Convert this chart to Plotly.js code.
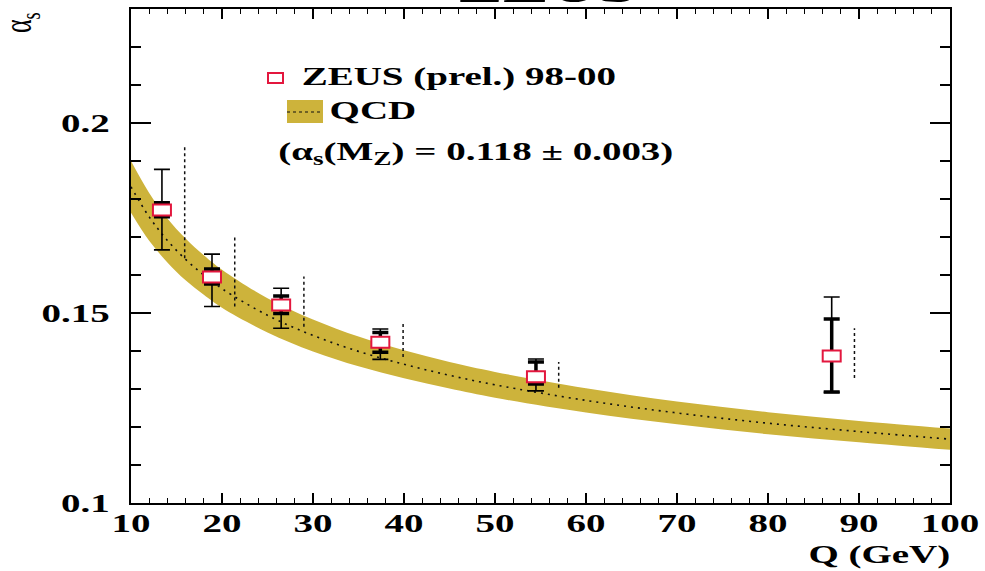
<!DOCTYPE html>
<html><head><meta charset="utf-8">
<script src="https://cdn.plot.ly/plotly-3.0.1.min.js"></script>
<style>html,body{margin:0;padding:0;background:#fff}#chart{width:985px;height:571px}</style>
</head><body><div id="chart"></div>
<script>
// ---- QCD prediction band ----
const qcdQ       = [10, 12, 14, 16, 18, 20, 25, 30, 35, 40, 45, 50, 60, 70, 80, 90, 100];
const qcdCentral = [0.1832,0.1753,0.1691,0.1641,0.1600,0.1564,0.1494,0.1441,0.1399,0.1365,0.1336,0.1311,0.1270,0.1237,0.1210,0.1188,0.1168];
const qcdUpper   = [0.1900,0.1816,0.1749,0.1696,0.1652,0.1614,0.1539,0.1483,0.1438,0.1402,0.1371,0.1345,0.1302,0.1267,0.1239,0.1216,0.1196];
const qcdLower   = [0.1764,0.1690,0.1633,0.1586,0.1548,0.1514,0.1449,0.1399,0.1360,0.1328,0.1301,0.1277,0.1238,0.1207,0.1181,0.1160,0.1140];

// ---- ZEUS (prel.) 98-00 data ----
const zeusQ     = [13.4, 18.9, 26.5, 37.4, 54.5, 87.0];
const zeusAlpha = [0.1771,0.1595,0.1521,0.1423,0.1332,0.1387];
const statHi    = [0.1790,0.1616,0.1545,0.1449,0.1371,0.1484];
const statLo    = [0.1753,0.1576,0.1499,0.1397,0.1313,0.1292];
const totHi     = [0.1878,0.1655,0.1565,0.1458,0.1379,0.1542];
const totLo     = [0.1666,0.1517,0.1460,0.1378,0.1295,0.1291];
const thHi      = [0.1938,0.1701,0.1596,0.1474,0.1371,0.1460];
const thLo      = [0.1644,0.1517,0.1464,0.1384,0.1303,0.1329];

const xTickVals = [10,20,30,40,50,60,70,80,90,100];
const yTickVals = [0.1,0.15,0.2];

const THOFF = 2.5;          // horizontal offset of dotted theory-uncertainty bars (GeV)
const FONT = 'Liberation Serif, Times New Roman, serif';
const GOLD = '#cdb33b';
const RED  = '#e3173e';

const thX = [], thY = [];
zeusQ.forEach((q,i)=>{ thX.push(q+THOFF,q+THOFF,null); thY.push(thLo[i],thHi[i],null); });

const traces = [
  {x:qcdQ, y:qcdLower, mode:'lines', line:{width:0, shape:'spline', color:GOLD}, hoverinfo:'skip', showlegend:false},
  {x:qcdQ, y:qcdUpper, mode:'lines', fill:'tonexty', fillcolor:GOLD, line:{width:0, shape:'spline', color:GOLD}, hoverinfo:'skip', showlegend:false},
  {x:qcdQ, y:qcdCentral, mode:'lines', line:{width:1.6, shape:'spline', color:'#111', dash:'2px,5px'}, hoverinfo:'skip', showlegend:false},
  {x:thX, y:thY, mode:'lines', line:{width:1.5, color:'#111', dash:'dot'}, hoverinfo:'skip', showlegend:false, connectgaps:false},
  {x:zeusQ, y:zeusAlpha, mode:'markers', marker:{size:1, color:'rgba(0,0,0,0)'}, hoverinfo:'skip', showlegend:false,
   error_y:{type:'data', symmetric:false,
     array: totHi.map((v,i)=>v-zeusAlpha[i]), arrayminus: zeusAlpha.map((v,i)=>v-totLo[i]),
     color:'#000', thickness:1.6, width:8}},
  {x:zeusQ, y:zeusAlpha, mode:'markers', marker:{size:1, color:'rgba(0,0,0,0)'}, hoverinfo:'skip', showlegend:false,
   error_y:{type:'data', symmetric:false,
     array: statHi.map((v,i)=>v-zeusAlpha[i]), arrayminus: zeusAlpha.map((v,i)=>v-statLo[i]),
     color:'#000', thickness:3.5, width:8}}
];

// paper-coordinate helpers (plot area: x 131..950 px, y 9..503 px)
const PX = p => (p-131)/819;
const PY = p => (503-p)/494;

const shapes = zeusQ.map((q,i)=>({type:'rect', xref:'x', yref:'y', xsizemode:'pixel', ysizemode:'pixel',
  xanchor:q, yanchor:zeusAlpha[i], x0:-9, x1:9, y0:-5.5, y1:5.5,
  fillcolor:'#fff', line:{color:RED, width:2}, layer:'above'}));
shapes.push(
  {type:'rect', xref:'paper', yref:'paper', x0:PX(268), x1:PX(283), y0:PY(83), y1:PY(73), fillcolor:'#fff', line:{color:RED, width:2}, layer:'above'},
  {type:'rect', xref:'paper', yref:'paper', x0:PX(287), x1:PX(323), y0:PY(123), y1:PY(100), fillcolor:GOLD, line:{width:0}, layer:'above'},
  {type:'line', xref:'paper', yref:'paper', x0:PX(287), x1:PX(323), y0:PY(112), y1:PY(112), line:{color:'#111', width:1.2, dash:'dot'}, layer:'above'}
);

const bold = {family:FONT, size:26, color:'#000', weight:'bold'};
const annotations = [
  {xref:'paper', yref:'paper', x:PX(458.5), y:PY(77), text:'ZEUS (prel.) 98-00', showarrow:false, font:bold, xanchor:'center', yanchor:'middle'},
  {xref:'paper', yref:'paper', x:PX(372.5), y:PY(111), text:'QCD', showarrow:false, font:bold, xanchor:'center', yanchor:'middle'},
  {xref:'paper', yref:'paper', x:PX(475.5), y:PY(153), text:'(α<sub>s</sub>(M<sub>Z</sub>) = 0.118 ± 0.003)', showarrow:false, font:bold, xanchor:'center', yanchor:'middle'},
  {xref:'paper', yref:'paper', x:PX(879), y:PY(555), text:'Q (GeV)', showarrow:false, font:bold, xanchor:'center', yanchor:'middle'},
  {xref:'paper', yref:'paper', x:PX(21), y:PY(23), text:'α<sub>s</sub>', showarrow:false, textangle:-90, font:{family:FONT, size:26, color:'#000'}, xanchor:'center', yanchor:'middle'},
  {xref:'paper', yref:'paper', x:PX(547), y:PY(-14), text:'ZEUS', showarrow:false, font:{family:FONT, size:46, color:'#000', weight:'bold'}, xanchor:'center', yanchor:'middle'}
];

const axisCommon = {showline:true, linewidth:2, linecolor:'#000', mirror:'ticks', ticks:'inside',
  tickcolor:'#000', showgrid:false, zeroline:false, tickfont:bold};

const layout = {
  width:985, height:571, margin:{l:131, r:35, t:9, b:68},
  paper_bgcolor:'#fff', plot_bgcolor:'#fff', showlegend:false,
  xaxis:Object.assign({}, axisCommon, {range:[10,100], tickmode:'array', tickvals:xTickVals,
    ticklen:10, tickwidth:1.5, ticklabelstandoff:0,
    minor:{dtick:2, tick0:10, ticks:'inside', ticklen:5, tickwidth:1.2, tickcolor:'#000'}}),
  yaxis:Object.assign({}, axisCommon, {range:[0.1,0.23], tickmode:'array', tickvals:yTickVals,
    ticklen:20, tickwidth:1.5, ticklabelstandoff:14,
    minor:{dtick:0.01, tick0:0.1, ticks:'inside', ticklen:10, tickwidth:1.2, tickcolor:'#000'}}),
  shapes:shapes, annotations:annotations
};

function stretchText(t, sx, sy, dy){
  const b = t.getBBox();
  const anchor = t.getAttribute('text-anchor') || 'start';
  const px = anchor==='end' ? b.x+b.width : (anchor==='middle' ? b.x+b.width/2 : b.x);
  const py = b.y + b.height/2;
  const prev = t.getAttribute('transform') || '';
  t.setAttribute('transform', prev + ' translate(0,'+(dy||0)+') translate('+px+','+py+') scale('+sx+','+sy+') translate('+(-px)+','+(-py)+')');
}

Plotly.newPlot('chart', traces, layout, {staticPlot:true, displayModeBar:false}).then(gd=>{
  const S = 1.5;
  gd.querySelectorAll('.xtick text').forEach(t=>stretchText(t, S, 1, -4));
  gd.querySelectorAll('.ytick text').forEach(t=>stretchText(t, S, 1, 0));
  gd.querySelectorAll('g.annotation').forEach(g=>{
    const i = +g.getAttribute('data-index');
    const t = g.querySelector('text.annotation-text');
    if(!t) return;
    if(annotations[i] && annotations[i].textangle === -90) stretchText(t, 1, S, 0);
    else stretchText(t, S, 1, 0);
  });
});
</script>
</body></html>
